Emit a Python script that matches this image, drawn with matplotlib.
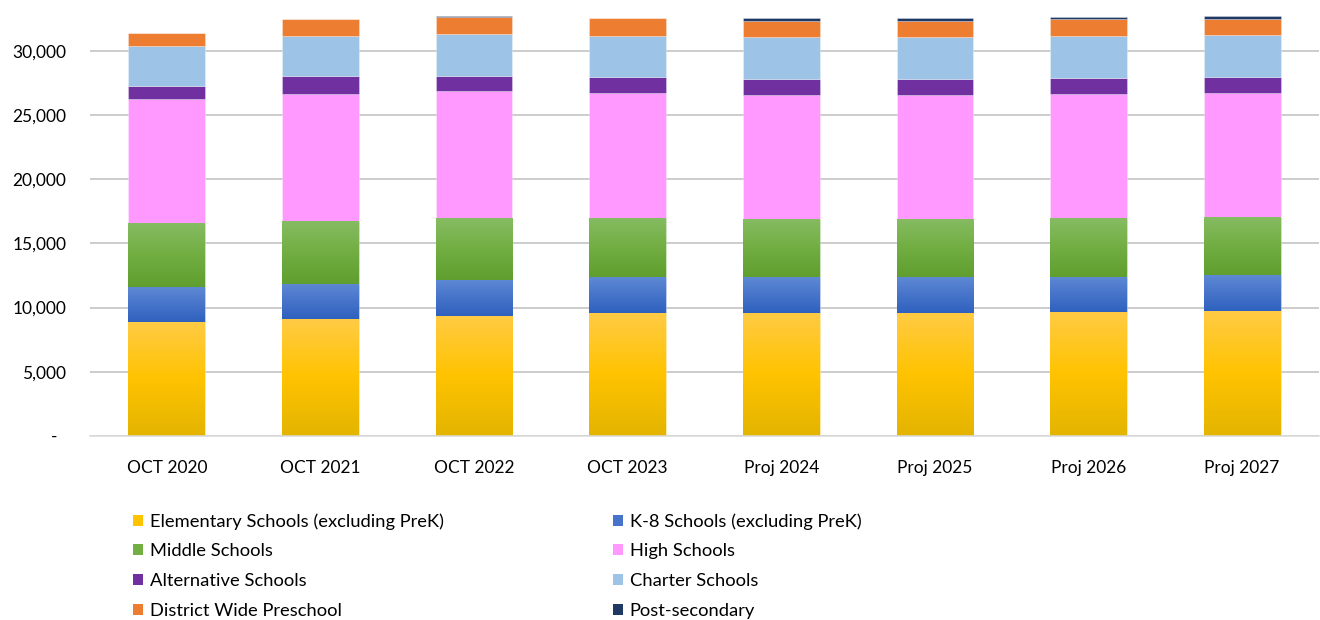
import numpy as np
import matplotlib
matplotlib.use("Agg")
import matplotlib.pyplot as plt
from matplotlib.colors import LinearSegmentedColormap
from matplotlib.patches import Patch
from matplotlib.ticker import FuncFormatter, MultipleLocator

plt.rcParams["font.family"] = ["Lato", "DejaVu Sans"]

categories = ["OCT 2020", "OCT 2021", "OCT 2022", "OCT 2023",
              "Proj 2024", "Proj 2025", "Proj 2026", "Proj 2027"]

elementary = [8860, 9090, 9350, 9560, 9610, 9610, 9660, 9710]
k8 = [2720, 2750, 2820, 2790, 2750, 2750, 2750, 2800]
middle = [5040, 4930, 4810, 4610, 4540, 4540, 4570, 4550]
high = [9630, 9840, 9870, 9790, 9660, 9660, 9640, 9630]
alternative = [1010, 1430, 1190, 1220, 1250, 1250, 1300, 1270]
charter = [3090, 3140, 3250, 3220, 3300, 3300, 3250, 3300]
preschool = [1010, 1280, 1350, 1350, 1250, 1250, 1300, 1250]
postsecondary = [0, 0, 60, 0, 210, 210, 150, 210]

series = [
    ("Elementary Schools (excluding PreK)", elementary, ["#FFCB45", "#FFC300", "#E3B400"]),
    ("K-8 Schools (excluding PreK)", k8, ["#5D89D4", "#4774CA", "#2E61BE"]),
    ("Middle Schools", middle, ["#86BC63", "#72AE42", "#5F9E2F"]),
    ("High Schools", high, ["#FF99FF"]),
    ("Alternative Schools", alternative, ["#7030A0"]),
    ("Charter Schools", charter, ["#9DC3E6"]),
    ("District Wide Preschool", preschool, ["#ED7D31"]),
    ("Post-secondary", postsecondary, ["#203864"]),
]

W, H = 1320, 620
fig = plt.figure(figsize=(W / 100, H / 100), dpi=100)
ax = fig.add_axes([90 / W, 184 / H, 1229 / W, 1 - 184 / H])

x = np.arange(len(categories))
bottom = np.zeros(len(categories))
gradient = np.linspace(0, 1, 256).reshape(-1, 1)
handles = []
for label, values, colors in series:
    values = np.asarray(values, dtype=float)
    mid = colors[len(colors) // 2]
    bars = ax.bar(x, values, width=0.5, bottom=bottom, color=mid,
                  edgecolor=(1, 1, 1, 0.35), linewidth=0.6, zorder=2)
    if len(colors) > 1:
        # vertical colour ramp, light at the top of each segment
        cmap = LinearSegmentedColormap.from_list(label, colors)
        for p in bars.patches:
            x0, y0 = p.get_x(), p.get_y()
            w, h = p.get_width(), p.get_height()
            im = ax.imshow(gradient, cmap=cmap, extent=(x0, x0 + w, y0, y0 + h),
                           aspect="auto", interpolation="bilinear", zorder=2.1)
            im.set_clip_path(p)
    bottom += values
    handles.append(Patch(facecolor=mid, edgecolor="none", label=label))

ax.set_xlim(-0.5, len(categories) - 0.5)
ax.set_ylim(0, 33960)
ax.set_aspect("auto")

ax.yaxis.set_major_locator(MultipleLocator(5000))
ax.yaxis.set_major_formatter(FuncFormatter(lambda v, _: "-  " if v == 0 else f"{v:,.0f}"))
ax.grid(axis="y", color="#BFBFBF", linewidth=1.1, zorder=0)
ax.set_axisbelow(True)
for side in ("top", "right", "left"):
    ax.spines[side].set_visible(False)
ax.spines["bottom"].set_color("#D9D9D9")
ax.spines["bottom"].set_linewidth(1.1)

ax.set_xticks(x)
ax.set_xticklabels(categories)
ax.tick_params(axis="x", length=0, pad=17, labelsize=12.5, labelcolor="#000000")
ax.tick_params(axis="y", length=0, pad=17, labelsize=12.5, labelcolor="#000000")

legend_kw = dict(loc="upper left", frameon=False, fontsize=13.2, borderpad=0,
                 borderaxespad=0, handlelength=0.55, handleheight=0.55,
                 handletextpad=0.35, labelspacing=0.75)
left_col = [handles[i] for i in (0, 2, 4, 6)]
right_col = [handles[i] for i in (1, 3, 5, 7)]
fig.legend(handles=left_col, bbox_to_anchor=(133 / W, 1 - 513 / H), **legend_kw)
fig.legend(handles=right_col, bbox_to_anchor=(613 / W, 1 - 513 / H), **legend_kw)

fig.savefig("out.png", dpi=100, facecolor="white")
